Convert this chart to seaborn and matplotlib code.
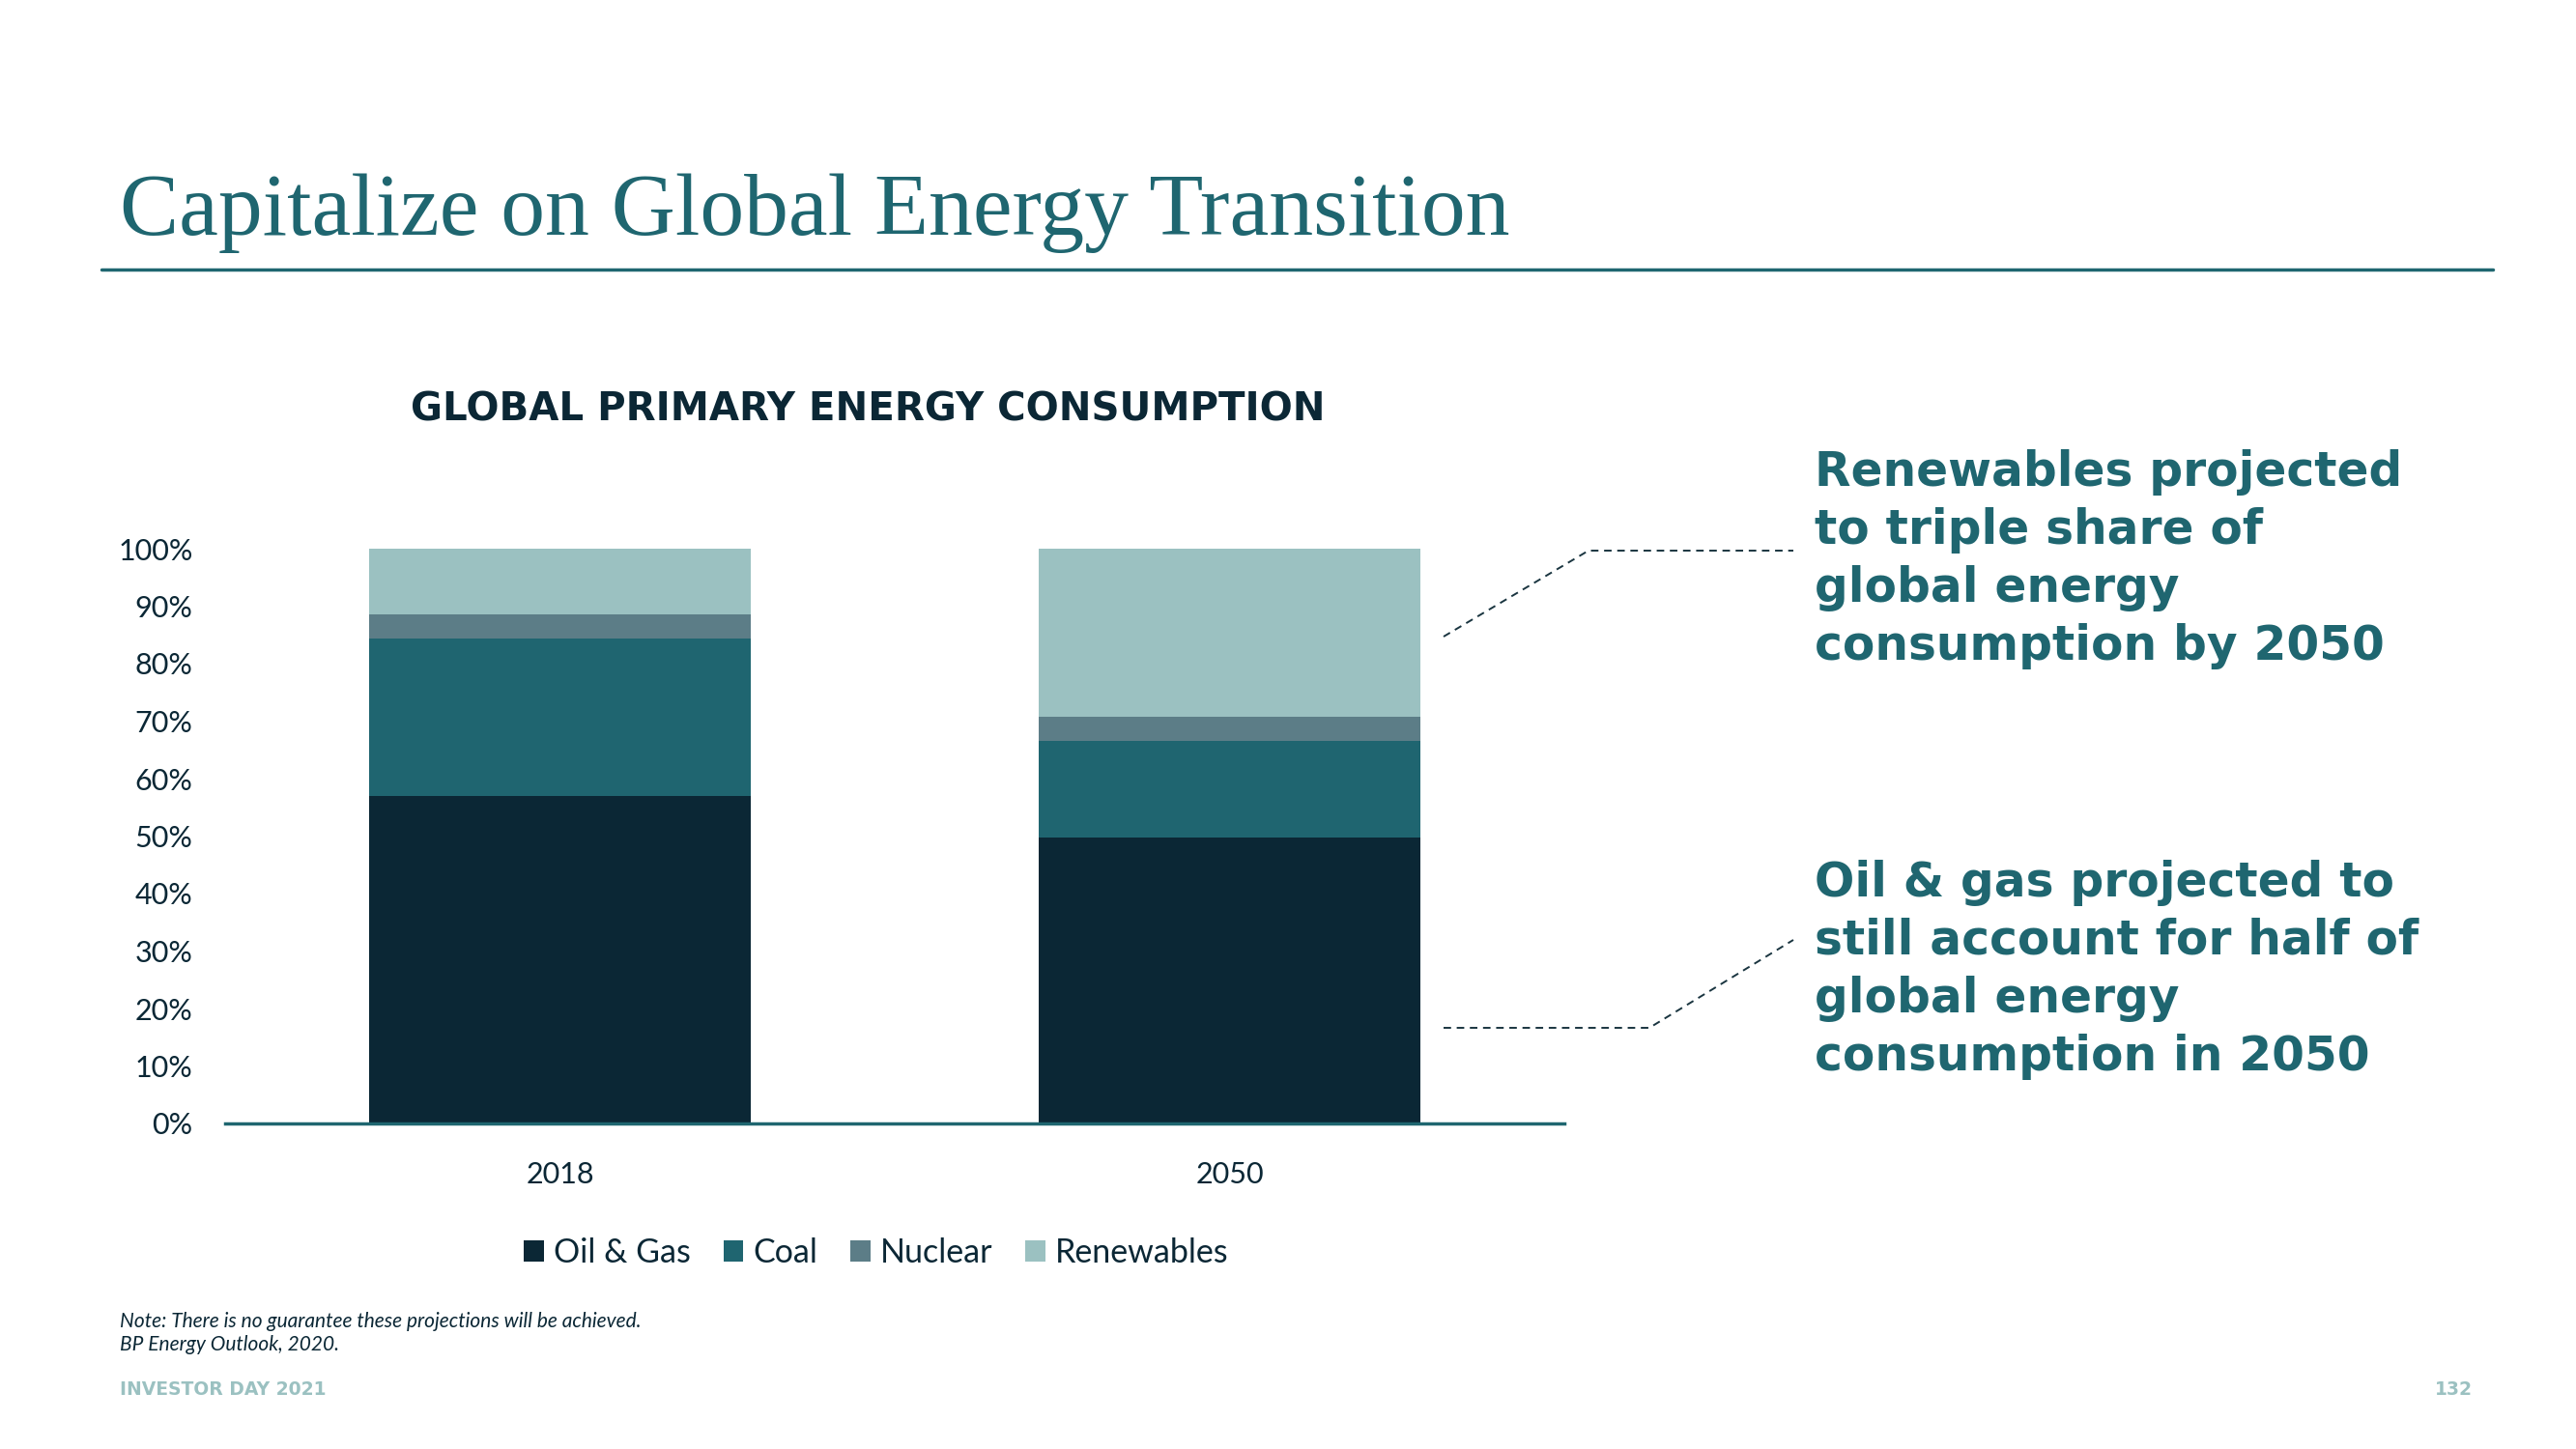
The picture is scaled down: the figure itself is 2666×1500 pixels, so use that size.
import matplotlib
matplotlib.use("Agg")
import matplotlib.pyplot as plt
import seaborn as sns
import pandas as pd
from matplotlib.patches import Patch
from matplotlib.lines import Line2D

# ---- data ----
years = ["2018", "2050"]
sources = ["Oil & Gas", "Coal", "Nuclear", "Renewables"]
oil_gas = [57.0, 49.7]
coal = [27.4, 16.9]
nuclear = [4.2, 4.2]
renewables = [11.4, 29.2]
source_colors = ["#0B2735", "#1F6570", "#5C7D87", "#9BC1C1"]
yticks = list(range(0, 101, 10))
ytick_labels = [f"{v}%" for v in yticks]

title = "Capitalize on Global Energy Transition"
chart_title = "GLOBAL PRIMARY ENERGY CONSUMPTION"
note_upper = ["Renewables projected", "to triple share of", "global energy", "consumption by 2050"]
note_lower = ["Oil & gas projected to", "still account for half of", "global energy", "consumption in 2050"]
footnotes = ["Note: There is no guarantee these projections will be achieved.", "BP Energy Outlook, 2020."]
footer_left = "INVESTOR DAY 2021"
footer_right = "132"

TEAL = "#1F6670"
NAVY = "#0B2735"
LIGHT = "#9BC1C1"

sns.set_theme(style="white")
plt.rcParams["font.family"] = ["Lato", "DejaVu Sans"]
WIDE = ["DejaVu Sans"]

W, H = 2666, 1500
fig = plt.figure(figsize=(W / 100, H / 100), dpi=100)
fig.patch.set_facecolor("white")


def fx(px):
    return px / W


def fy(py):
    return 1 - py / H


ax = fig.add_axes([fx(233), fy(1163), (1619 - 233) / W, (1163 - 568) / H])
ax.set_facecolor("white")

df = pd.DataFrame({"year": years, "Oil & Gas": oil_gas, "Coal": coal,
                   "Nuclear": nuclear, "Renewables": renewables})
cum = df[sources].cumsum(axis=1)
cum["year"] = df["year"]
for src, col in reversed(list(zip(sources, source_colors))):
    sns.barplot(data=cum, x="year", y=src, color=col, width=0.571, ax=ax,
                saturation=1, linewidth=0, errorbar=None, order=years)

ax.set_xlim(-0.5, 1.5)
ax.set_ylim(0, 100)
ax.set_yticks(yticks, ytick_labels)
ax.set_xlabel("")
ax.set_ylabel("")
for s in ["left", "top", "right"]:
    ax.spines[s].set_visible(False)
ax.spines["bottom"].set_color(TEAL)
ax.spines["bottom"].set_linewidth(2.5)
ax.tick_params(axis="y", length=0, labelsize=22, colors=NAVY, pad=24)
ax.tick_params(axis="x", length=0, labelsize=22, colors=NAVY, pad=28)
ax.grid(False)

handles = [Patch(facecolor=c, edgecolor="none", label=s) for s, c in zip(sources, source_colors)]
fig.legend(handles=handles, loc="center", bbox_to_anchor=(fx(907), fy(1297)), ncol=4,
           frameon=False, fontsize=24.5, handlelength=0.6, handleheight=0.6,
           handletextpad=0.3, columnspacing=1.0, labelcolor=NAVY)

# headline + rule
fig.text(fx(124), fy(243), title, family=["Liberation Serif", "DejaVu Serif"],
         fontsize=66, color=TEAL, ha="left", va="baseline")
fig.add_artist(Line2D([fx(105), fx(2580)], [fy(279), fy(279)], color=TEAL, lw=2.5))

fig.text(fx(898), fy(424), chart_title, ha="center", va="center", fontsize=29,
         fontweight="bold", color=NAVY, family=WIDE)

# callouts
for i, line in enumerate(note_upper):
    fig.text(fx(1878), fy(503 + 60 * i), line, ha="left", va="baseline",
             fontsize=35, fontweight="bold", color=TEAL, family=WIDE)
for i, line in enumerate(note_lower):
    fig.text(fx(1878), fy(928 + 60 * i), line, ha="left", va="baseline",
             fontsize=35, fontweight="bold", color=TEAL, family=WIDE)

dash_kw = dict(color="#1A3540", lw=1.4, linestyle=(0, (4, 3)), transform=fig.transFigure)
fig.add_artist(Line2D([fx(1494), fx(1644), fx(1856)], [fy(659), fy(570), fy(570)], **dash_kw))
fig.add_artist(Line2D([fx(1494), fx(1707), fx(1856)], [fy(1064), fy(1064), fy(973)], **dash_kw))

# footnotes
for i, line in enumerate(footnotes):
    fig.text(fx(124), fy(1374 + 24 * i), line, ha="left", va="baseline",
             fontsize=15, fontstyle="italic", color=NAVY)
fig.text(fx(124), fy(1438), footer_left, ha="left", va="center", fontsize=13.5,
         fontweight="bold", color=LIGHT, family=WIDE)
fig.text(fx(2559), fy(1438), footer_right, ha="right", va="center", fontsize=13.5,
         fontweight="bold", color=LIGHT, family=WIDE)

fig.savefig("out.png", dpi=100, facecolor="white")
